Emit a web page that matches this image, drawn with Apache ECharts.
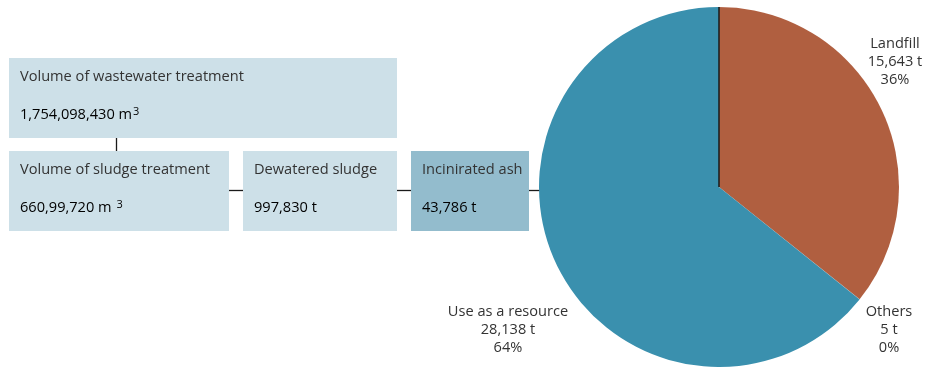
<!DOCTYPE html>
<html>
<head>
<meta charset="utf-8">
<script src="https://cdn.jsdelivr.net/npm/echarts@6/dist/echarts.min.js"></script>
<style>
  html, body { margin: 0; padding: 0; background: #fff; }
  #chart { width: 932px; height: 367px; }
</style>
</head>
<body>
<div id="chart"></div>
<script>
// Treatment flow figures
const flowTitles = ['Volume of wastewater treatment', 'Volume of sludge treatment', 'Dewatered sludge', 'Incinirated ash'];
const flowValues = ['1,754,098,430', '660,99,720', '997,830', '43,786'];
const flowUnits = ['m3', 'm 3', 't', 't'];

// Destination of incinerated ash (t)
const ashCategories = ['Landfill', 'Others', 'Use as a resource'];
const ashValues = [15643, 5, 28138];

const FONT = '"Open Sans", "Noto Sans", sans-serif';
const FS = 14.6;
const TEXT = '#333333';
const BOX = '#cde0e8';
const BOX_DARK = '#93bccd';

// Box layout: [x, y, w, h, fill]
const boxLayout = [
  [9, 58, 388, 80, BOX],
  [9, 151, 220, 80, BOX],
  [243, 151, 154, 80, BOX],
  [411, 151, 118, 80, BOX_DARK]
];

function valueRich(value, unit) {
  if (unit === 'm3') return '{n|' + value + ' m}{s|3}';
  if (unit === 'm 3') return '{n|' + value + ' m }{s|3}';
  return '{n|' + value + ' ' + unit + '}';
}

const graphic = [];
boxLayout.forEach(function (b, i) {
  graphic.push({
    type: 'rect', shape: { x: b[0], y: b[1], width: b[2], height: b[3] },
    style: { fill: b[4] }, silent: true
  });
  graphic.push({
    type: 'text', x: b[0] + 11, y: b[1] + 18.5,
    style: { text: flowTitles[i], font: FS + 'px ' + FONT, fill: TEXT, verticalAlign: 'middle' }
  });
  graphic.push({
    type: 'text', x: b[0] + 11, y: b[1] + 57,
    style: {
      text: valueRich(flowValues[i], flowUnits[i]),
      verticalAlign: 'middle',
      rich: {
        n: { fontSize: FS, fontFamily: FONT, color: TEXT, lineHeight: 20, verticalAlign: 'middle' },
        s: { fontSize: 11, fontFamily: FONT, color: TEXT, lineHeight: 12, verticalAlign: 'middle', padding: [0, 0, 6, 1] }
      }
    }
  });
});

// Connectors between the boxes
const lineStyle = { stroke: '#1a1a1a', lineWidth: 1.3 };
[
  [116.5, 138, 116.5, 151],
  [229, 190.5, 243, 190.5],
  [397, 190.5, 411, 190.5],
  [529, 190.5, 541, 190.5]
].forEach(function (p) {
  graphic.push({ type: 'line', shape: { x1: p[0], y1: p[1], x2: p[2], y2: p[3] }, style: lineStyle, silent: true });
});
// Start radius of the pie
graphic.push({ type: 'line', z: 100, shape: { x1: 719, y1: 187, x2: 719, y2: 7 }, style: { stroke: '#1a1a1a', lineWidth: 1.5 }, silent: true });

const labelPos = [[895, 62], [889, 330], [508, 330]];

const chart = echarts.init(document.getElementById('chart'), null, { renderer: 'canvas' });
chart.setOption({
  animation: false,
  backgroundColor: '#ffffff',
  graphic: graphic,
  series: [{
    type: 'pie',
    center: [719, 187],
    radius: 180,
    startAngle: 90,
    clockwise: true,
    minAngle: 0,
    avoidLabelOverlap: false,
    silent: true,
    itemStyle: { borderWidth: 0 },
    color: ['#b05f40', '#9a9a9a', '#3a90ae'],
    data: ashCategories.map(function (c, i) { return { name: c, value: ashValues[i] }; }),
    label: {
      show: true,
      position: 'outside',
      color: TEXT,
      fontFamily: FONT,
      fontSize: FS,
      lineHeight: 18,
      align: 'center',
      formatter: function (p) {
        return p.name + '\n' + p.value.toLocaleString('en-US') + ' t\n' + Math.round(p.percent) + '%';
      }
    },
    labelLine: { show: false },
    labelLayout: function (params) {
      const pos = labelPos[params.dataIndex];
      return { x: pos[0], y: pos[1], align: 'center', verticalAlign: 'middle' };
    }
  }]
});
</script>
</body>
</html>
